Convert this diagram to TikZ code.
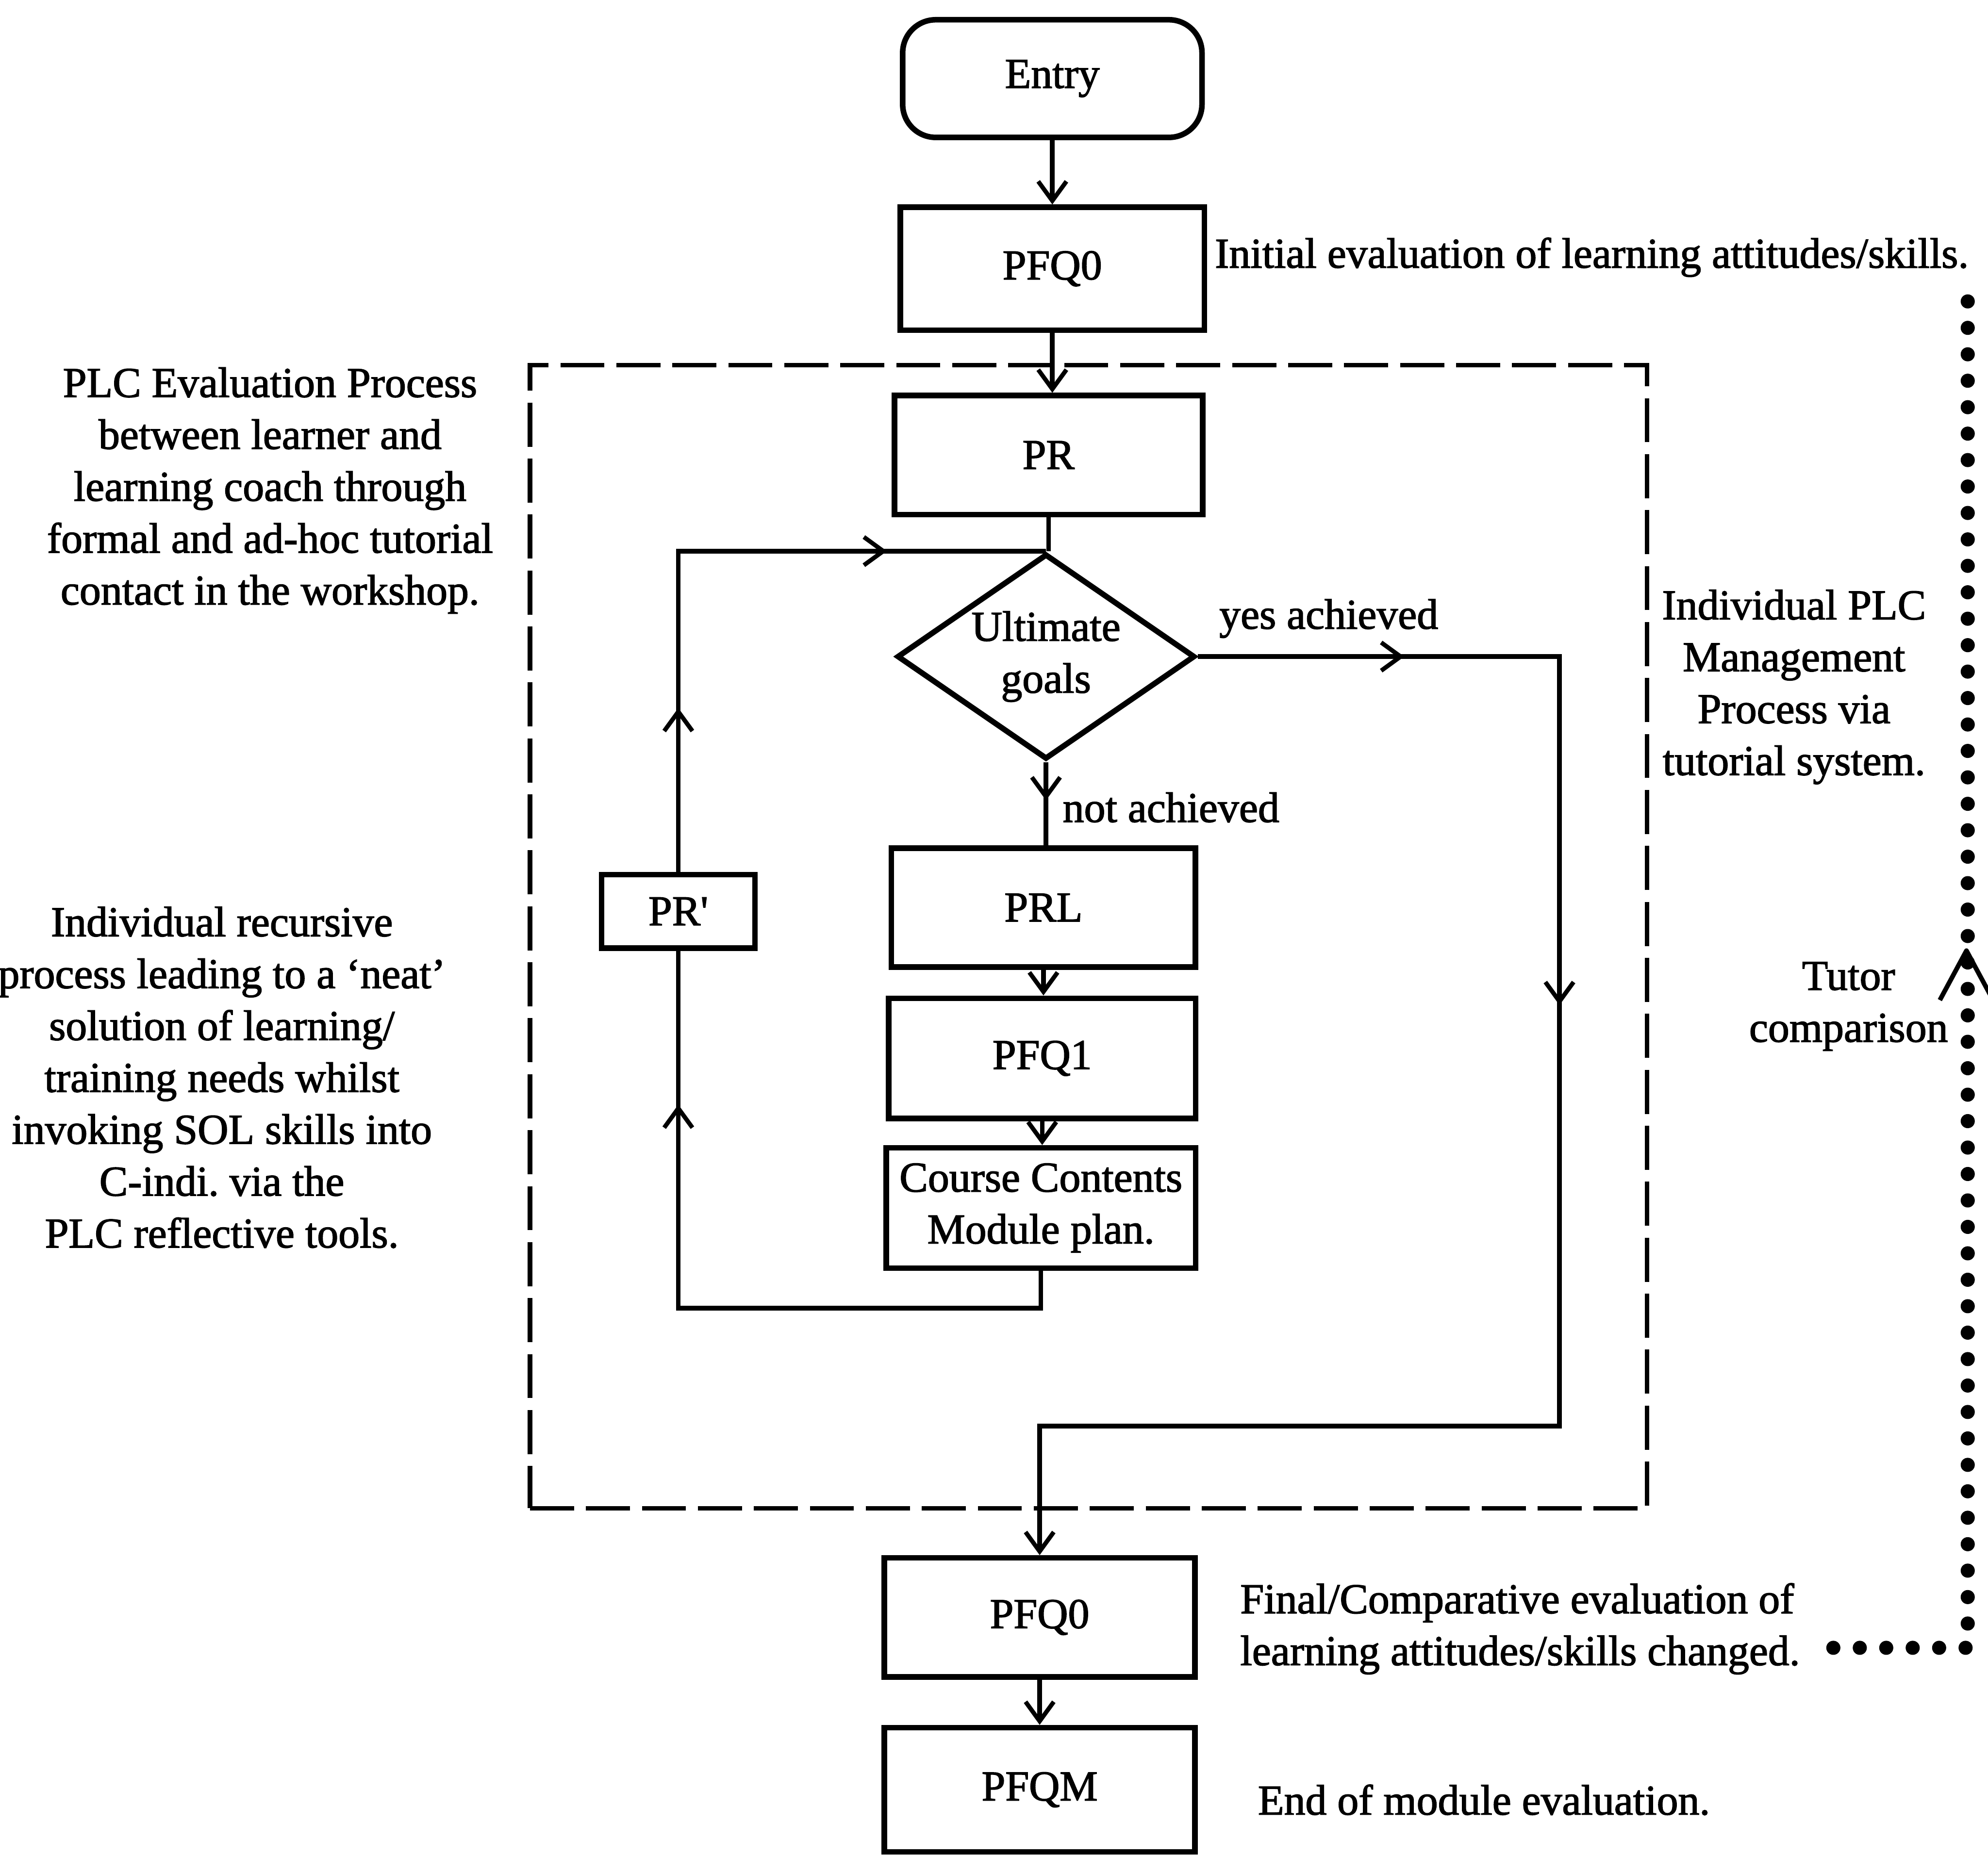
\documentclass[tikz,border=0pt]{standalone}
\usepackage{fontspec}
\setmainfont{Liberation Serif}[FakeBold=1.8]
\usetikzlibrary{arrows.meta,shapes.geometric,decorations.markings}

\begin{document}
\frenchspacing
\begin{tikzpicture}[x=0.02876cm,y=-0.02876cm,
  font=\fontsize{27.5}{33.5}\selectfont,
  box/.style={draw,line width=3.6pt,inner sep=0pt,align=center},
  wire/.style={line width=3pt,line join=miter},
  barb/.style={-{Straight Barb[length=0.44cm,width=0.64cm,line width=2.8pt]}},
  midtip/.style={postaction={decorate,decoration={markings,
      mark=at position #1 with {\arrow{Straight Barb[length=0.44cm,width=0.64cm,line width=2.8pt]}}}}},
  note/.style={align=center,inner sep=0pt},
  dots/.style={decorate,decoration={markings,
      mark=between positions 0 and 1 step 0.6cm with {\fill (0,0) circle[radius=0.16cm];}}},
]
\useasboundingbox (0,0) rectangle (1568,1464);

% main column
\node[box,rounded corners=0.75cm,minimum width=6.79cm,minimum height=2.67cm] (entry) at (830,62) {Entry};
\node[box,minimum width=6.9cm,minimum height=2.79cm] (pfq0a) at (830,212) {PFQ0};
\node[box,minimum width=6.99cm,minimum height=2.7cm] (pr) at (827,359) {PR};
\node[draw,diamond,line width=3.6pt,aspect=1.45,minimum width=6.76cm,minimum height=4.66cm,
      inner sep=0pt,align=center] (goal) at (825,518) {Ultimate\\goals};
\node[box,minimum width=3.48cm,minimum height=1.67cm] (prp) at (535,719) {PR\textquotesingle};
\node[box,minimum width=6.9cm,minimum height=2.7cm] (prl) at (823,716) {PRL};
\node[box,minimum width=6.96cm,minimum height=2.73cm] (pfq1) at (822,835) {PFQ1};
\node[box,minimum width=7.02cm,minimum height=2.73cm] (cc) at (821,953) {Course Contents\\Module plan.};
\node[box,minimum width=7.05cm,minimum height=2.7cm] (pfq0b) at (820,1276) {PFQ0};
\node[box,minimum width=7.05cm,minimum height=2.82cm] (pfqm) at (820,1412) {PFQM};

% dashed frame of the PLC evaluation loop
\node[draw,line width=3pt,dash pattern=on 1.0cm off 0.27cm,minimum width=25.34cm,minimum height=25.94cm,
      inner sep=0pt] (frame) at (858.5,739) {};

% side notes
\node[note,anchor=west] (initial) at (958,203) {Initial evaluation of learning attitudes/skills.};
\node[note] (evalproc) at (213,387) {PLC Evaluation Process\\between learner and\\learning coach through\\formal and ad-hoc tutorial\\contact in the workshop.};
\node[note] (recursive) at (175,850) {Individual recursive\\process leading to a `neat'\\solution of learning/\\training needs whilst\\invoking SOL skills into\\C-indi. via the\\PLC reflective tools.};
\node[note] (mgmt) at (1415,542) {Individual PLC\\Management\\Process via\\tutorial system.};
\node[note] (tutor) at (1458,794) {Tutor\\comparison};
\node[note,align=left,anchor=west] (final) at (978,1285) {Final/Comparative evaluation of\\learning attitudes/skills changed.};
\node[note,anchor=west] (endnote) at (992,1420) {End of module evaluation.};
\node[note] (yes) at (1048,488) {yes achieved};
\node[note,anchor=west] (notach) at (838,637) {not achieved};

% straight flow
\draw[wire,barb] (entry.south) -- (entry.south |- pfq0a.north);
\draw[wire,barb] (pfq0a.south) -- (pfq0a.south |- pr.north);
\draw[wire] (pr.south) -- (pr.south |- goal.north);
\draw[wire,midtip=0.46] (goal.south) -- (goal.south |- prl.north);
\draw[wire,barb] (prl.south) -- (prl.south |- pfq1.north);
\draw[wire,barb] (pfq1.south) -- (pfq1.south |- cc.north);
\draw[wire,barb] (pfq0b.south) -- (pfq0b.south |- pfqm.north);

% recursive loop back to the decision
\coordinate (loopbot) at (535,1032);
\draw[wire,midtip=0.797] (cc.south) |- (loopbot) -- (prp.south);
\draw[wire,midtip=0.238,midtip=0.769] (prp.north) -- (prp.north |- goal.north) -- (goal.north);

% goals achieved branch
\coordinate (yesturn) at (1230,518);
\coordinate (yesdown) at (1230,1125);
\draw[wire,barb,midtip=0.116,midtip=0.399] (goal.east) -- (yesturn) -- (yesdown) -| (pfq0b.north);

% tutor comparison (dotted)
\coordinate (dstart) at (1446,1300);
\coordinate (dcorner) at (1552,1300);
\coordinate (dtop) at (1552,225);
\path[dots] (dstart) -- (dcorner) -- (dtop);
\draw[line width=3pt,line join=round] (1530,789) -- (1551,750) -- (1572,789);
\end{tikzpicture}
\end{document}
